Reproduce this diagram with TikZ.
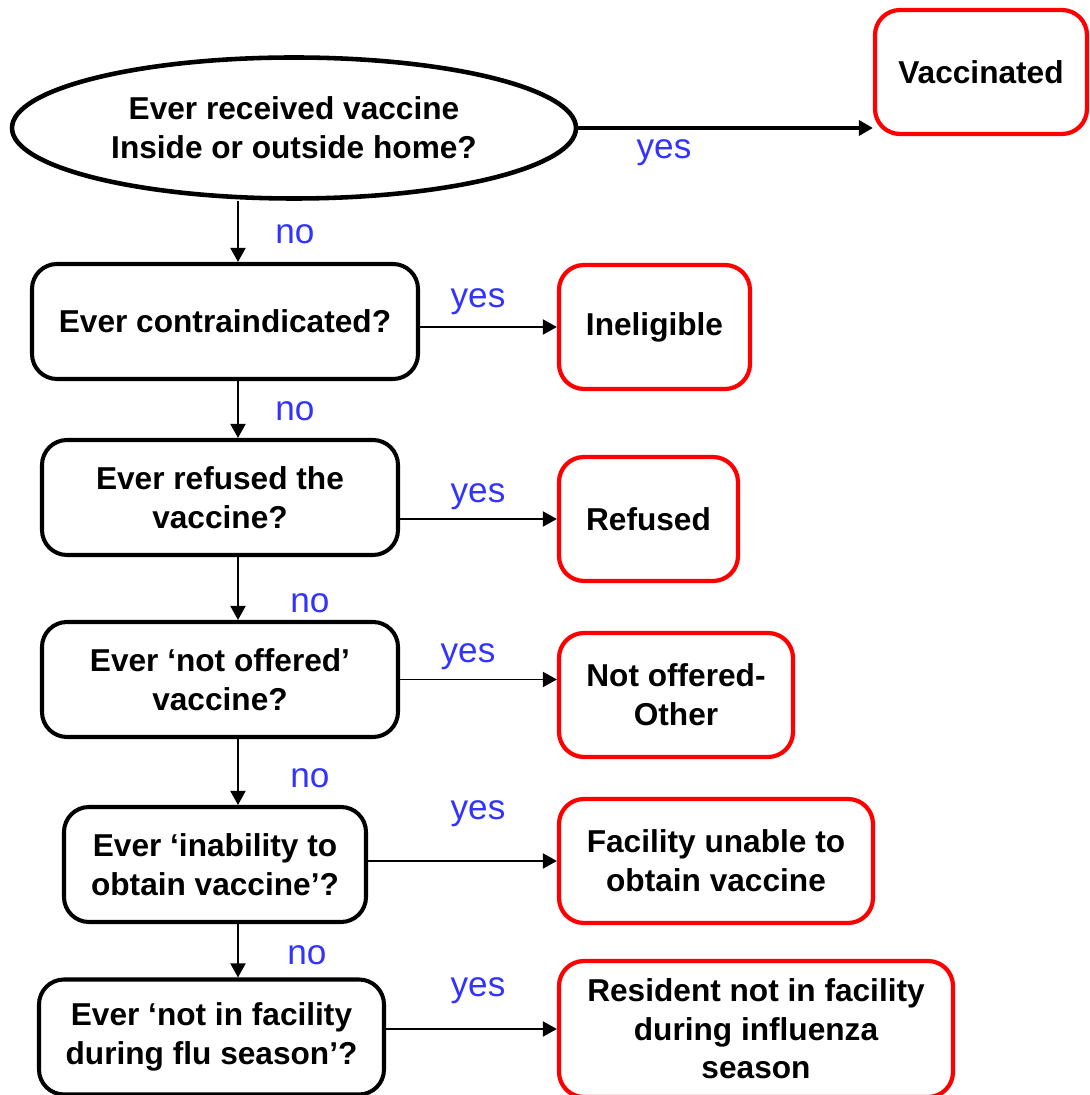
\documentclass[tikz,border=0pt]{standalone}
\usepackage{fontspec}
\setmainfont{Liberation Sans}
\usetikzlibrary{shapes.geometric,arrows.meta}
\definecolor{answer}{RGB}{51,51,255}

\begin{document}
\begin{tikzpicture}
  [ask/.style={draw=black,line width=2.3pt,rounded corners=0.5cm,align=center,inner sep=0pt,
     font=\bfseries\fontsize{18}{22}\selectfont},
   start/.style={ellipse,draw=black,line width=2.6pt,align=center,inner sep=0pt,
     font=\bfseries\fontsize{18}{22}\selectfont},
   outcome/.style={draw=red,line width=2.4pt,rounded corners=0.5cm,align=center,inner sep=0pt,
     font=\bfseries\fontsize{18}{22}\selectfont},
   lbl/.style={text=answer,inner sep=0pt,font=\fontsize{20}{24}\selectfont},
   flow/.style={line width=1.1pt,-{Triangle[length=0.28cm,width=0.3cm]}}]
  \useasboundingbox (0,0) rectangle (21.8,21.9);
  \coordinate (spine) at (4.76,0);
  % questions
  \node[start,minimum width=11.28cm,minimum height=2.82cm] (qa) at (5.88,19.34) {Ever received vaccine\\Inside or outside home?};
  \node[ask,minimum width=7.72cm,minimum height=2.3cm] (qb) at (4.5,15.47) {Ever contraindicated?};
  \node[ask,minimum width=7.12cm,minimum height=2.3cm] (qc) at (4.4,11.95) {Ever refused the\\vaccine?};
  \node[ask,minimum width=7.12cm,minimum height=2.3cm] (qd) at (4.4,8.31) {Ever `not offered'\\vaccine?};
  \node[ask,minimum width=6.04cm,minimum height=2.3cm] (qe) at (4.3,4.61) {Ever `inability to\\obtain vaccine'?};
  \node[ask,minimum width=6.9cm,minimum height=2.3cm] (qf) at (4.23,1.16) {Ever `not in facility\\during flu season'?};
  % outcomes
  \node[outcome,minimum width=4.24cm,minimum height=2.48cm] (ra) at (19.62,20.46) {Vaccinated};
  \node[outcome,minimum width=3.82cm,minimum height=2.48cm] (rb) at (13.09,15.36) {Ineligible};
  \node[outcome,minimum width=3.58cm,minimum height=2.48cm] (rc) at (12.97,11.52) {Refused};
  \node[outcome,minimum width=4.68cm,minimum height=2.48cm] (rd) at (13.52,8.0) {Not offered-\\Other};
  \node[outcome,minimum width=6.28cm,minimum height=2.48cm] (re) at (14.32,4.68) {Facility unable to\\obtain vaccine};
  \node[outcome,minimum width=7.88cm,minimum height=2.72cm] (rf) at (15.12,1.32) {Resident not in facility\\during influenza\\season};
  % answers
  \node[lbl] (ya) at (13.28,18.84) {yes};
  \node[lbl] (yb) at (9.56,15.86) {yes};
  \node[lbl] (yc) at (9.56,11.96) {yes};
  \node[lbl] (yd) at (9.36,8.76) {yes};
  \node[lbl] (ye) at (9.56,5.62) {yes};
  \node[lbl] (yf) at (9.56,2.08) {yes};
  \node[lbl] (nb) at (5.9,17.22) {no};
  \node[lbl] (nc) at (5.9,13.68) {no};
  \node[lbl] (nd) at (6.2,9.84) {no};
  \node[lbl] (ne) at (6.2,6.34) {no};
  \node[lbl] (nf) at (6.14,2.8) {no};
  % connectors
  \foreach \from/\to in {qa/qb,qb/qc,qc/qd,qd/qe,qe/qf}
    \draw[flow] (\from.south -| spine) -- (\to.north -| spine);
  \draw[flow,line width=2.3pt] (qa.east) -- (qa.east -| ra.west);
  \draw[flow] (qd.east) -- (qd.east -| rd.west);
  \foreach \from/\to in {qb/rb,qc/rc,qe/re,qf/rf}
    \draw[flow] (\to.west -| \from.east) -- (\to.west);
\end{tikzpicture}
\end{document}
